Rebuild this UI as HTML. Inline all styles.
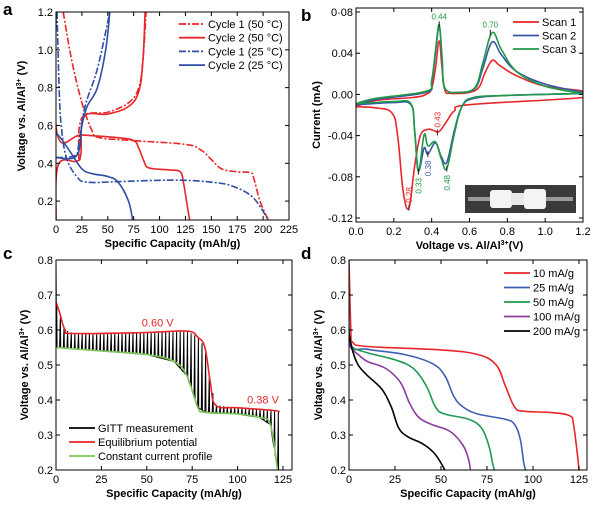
<!DOCTYPE html>
<html><head><meta charset="utf-8"><style>
body{margin:0;background:#fff}
svg{display:block;font-family:"Liberation Sans",sans-serif}
</style></head><body>
<svg id="fig" width="600" height="511" viewBox="0 0 600 511"></svg>
<script>
// ---------- data ----------
const aXTicks=[0,25,50,75,100,125,150,175,200,225];
const aYTicks=[0.2,0.4,0.6,0.8,1.0,1.2];
const aC1_50dis=[[7,1.2],[15,0.95],[25,0.72],[35,0.57],[42,0.535],[75,0.52],[125,0.5],[140,0.47],[150,0.42],[160,0.37],[175,0.355],[188,0.35],[191,0.32],[197,0.2],[205,0.1]];
const aC1_50chg=[[22,0.42],[25,0.64],[50,0.67],[70,0.72],[80,0.8],[84,0.95],[87,1.2]];
const aC2_50dis=[[0,1.2],[1,0.56],[25,0.55],[60,0.535],[75,0.52],[80,0.48],[85,0.41],[90,0.375],[110,0.365],[120,0.355],[123,0.3],[126,0.2],[129,0.1]];
const aC2_50chg=[[0,0.1],[2,0.39],[20,0.41],[24,0.45],[27,0.645],[50,0.66],[70,0.7],[80,0.78],[84,0.95],[86,1.2]];
const aC1_25dis=[[1,1.2],[3,0.8],[5,0.6],[10,0.43],[20,0.33],[30,0.3],[60,0.303],[100,0.31],[125,0.31],[150,0.3],[170,0.28],[190,0.22],[205,0.1]];
const aC1_25chg=[[0,0.43],[18,0.44],[22,0.5],[28,0.7],[40,0.9],[52,1.2]];
const aC2_25dis=[[0,0.56],[5,0.53],[15,0.45],[25,0.37],[35,0.345],[50,0.33],[60,0.3],[70,0.2],[74,0.1]];
const aC2_25chg=[[0,0.43],[20,0.44],[25,0.6],[30,0.7],[40,0.8],[48,1.0],[52,1.2]];

const bXTicks=[0,0.2,0.4,0.6,0.8,1.0,1.2];
const bYTicks=[-0.12,-0.08,-0.04,0,0.04,0.08];
const bYLabels=["-0.12","-0.08","-0.04","0.00","0.04","0·08"];
const bScan1=[[0,-0.012],[0.1,-0.006],[0.3,-0.003],[0.37,0],[0.40,0.006],[0.42,0.025],[0.44,0.052],[0.455,0.025],[0.47,0.004],[0.5,0.001],[0.6,0.002],[0.65,0.007],[0.68,0.02],[0.72,0.033],[0.76,0.028],[0.85,0.018],[1.0,0.008],[1.2,0.003],[1.2,-0.003],[0.6,-0.01],[0.52,-0.016],[0.48,-0.026],[0.44,-0.036],[0.41,-0.035],[0.38,-0.034],[0.34,-0.04],[0.31,-0.07],[0.28,-0.11],[0.25,-0.095],[0.22,-0.04],[0.19,-0.018],[0.1,-0.013],[0,-0.012]];
const bScan2=[[0,-0.01],[0.1,-0.005],[0.37,0.002],[0.40,0.012],[0.42,0.04],[0.44,0.066],[0.455,0.035],[0.47,0.006],[0.55,0.002],[0.63,0.006],[0.67,0.025],[0.72,0.051],[0.77,0.038],[0.85,0.022],[1.0,0.01],[1.2,0.002],[1.2,0.001],[0.8,-0.001],[0.62,-0.004],[0.56,-0.012],[0.52,-0.035],[0.48,-0.066],[0.45,-0.06],[0.42,-0.047],[0.38,-0.058],[0.36,-0.052],[0.33,-0.074],[0.31,-0.035],[0.29,-0.01],[0.2,-0.008],[0,-0.01]];
const bScan3=[[0,-0.009],[0.1,-0.004],[0.37,0.003],[0.40,0.014],[0.42,0.042],[0.44,0.068],[0.455,0.036],[0.47,0.006],[0.55,0.002],[0.63,0.007],[0.67,0.03],[0.72,0.06],[0.77,0.043],[0.85,0.022],[1.0,0.008],[1.2,0.001],[1.2,0.001],[0.8,-0.001],[0.62,-0.003],[0.56,-0.012],[0.52,-0.038],[0.48,-0.072],[0.45,-0.062],[0.42,-0.046],[0.38,-0.05],[0.36,-0.039],[0.33,-0.075],[0.31,-0.035],[0.29,-0.009],[0.2,-0.007],[0,-0.009]];

const cXTicks=[0,25,50,75,100,125];
const cYTicks=[0.2,0.3,0.4,0.5,0.6,0.7,0.8];
const cEq=[[0,0.68],[2,0.65],[5,0.6],[10,0.59],[50,0.593],[72,0.597],[78,0.58],[82,0.55],[85,0.45],[88,0.385],[100,0.378],[120,0.37],[123,0.365]];
const cCC=[[0,0.55],[25,0.54],[50,0.53],[65,0.51],[72,0.47],[78,0.38],[82,0.365],[100,0.36],[112,0.35],[118,0.33],[122,0.2]];

const dXTicks=[0,25,50,75,100,125];
const dYTicks=[0.2,0.3,0.4,0.5,0.6,0.7,0.8];
const d10=[[0,0.8],[1,0.6],[2,0.565],[10,0.553],[50,0.543],[70,0.53],[80,0.5],[85,0.44],[90,0.38],[95,0.368],[110,0.364],[120,0.355],[122,0.33],[124,0.25],[125,0.2]];
const d25=[[0,0.7],[1,0.56],[10,0.545],[30,0.53],[45,0.505],[52,0.47],[57,0.41],[62,0.38],[70,0.36],[85,0.345],[90,0.33],[93,0.29],[95,0.22],[96,0.2]];
const d50=[[0,0.6],[1,0.555],[10,0.535],[25,0.515],[35,0.49],[42,0.44],[47,0.38],[52,0.36],[65,0.345],[72,0.32],[76,0.27],[78,0.22],[79,0.2]];
const d100=[[0,0.58],[1,0.55],[5,0.53],[10,0.51],[20,0.49],[28,0.45],[33,0.39],[38,0.35],[45,0.33],[55,0.31],[62,0.27],[65,0.23],[66,0.2]];
const d200=[[0,0.59],[2,0.54],[5,0.5],[10,0.47],[18,0.43],[23,0.38],[27,0.32],[32,0.295],[40,0.275],[46,0.25],[50,0.22],[52,0.2]];

// ---------- drawing ----------
const NS="http://www.w3.org/2000/svg";
const svg=document.getElementById('fig');
function mk(tag,attrs,parent,text){const e=document.createElementNS(NS,tag);for(const k in attrs)e.setAttribute(k,attrs[k]);if(text!==undefined)e.textContent=text;(parent||svg).appendChild(e);return e;}
function scale(d0,d1,r0,r1){return v=>r0+(v-d0)/(d1-d0)*(r1-r0);}
function smooth(P){
  let d='M'+P[0][0].toFixed(1)+','+P[0][1].toFixed(1);
  const k=0.18;
  for(let i=0;i<P.length-1;i++){
    const p0=P[i-1]||P[i],p1=P[i],p2=P[i+1],p3=P[i+2]||P[i+1];
    const c1=[p1[0]+(p2[0]-p0[0])*k,p1[1]+(p2[1]-p0[1])*k];
    const c2=[p2[0]-(p3[0]-p1[0])*k,p2[1]-(p3[1]-p1[1])*k];
    d+='C'+c1.map(v=>v.toFixed(1))+' '+c2.map(v=>v.toFixed(1))+' '+p2[0].toFixed(1)+','+p2[1].toFixed(1);
  }
  return d;
}

function panel(o){
  const g=mk('g',{});
  
  
  const X=scale(o.xd[0],o.xd[1],o.x0,o.x1), Y=scale(o.yd[0],o.yd[1],o.y0,o.y1);
  const clipId='clip'+o.name;
  const cp=mk('clipPath',{id:clipId},g);mk('rect',{x:o.fx0,y:o.fy0,width:o.fx1-o.fx0,height:o.fy1-o.fy0},cp);
  const plot=mk('g',{'clip-path':'url(#'+clipId+')'},g);
  o.X=X;o.Y=Y;o.plot=plot;o.g=g;
  if(o.pre)o.pre(o);
  o.series.forEach(s=>{
    const p=mk('path',{d:smooth(s.pts.map(q=>[X(q[0]),Y(q[1])])),fill:'none',stroke:s.c,'stroke-width':s.w||1.6,'stroke-dasharray':s.dash||'','stroke-linejoin':'round'},plot);
    
    
  });
  const fr=mk('rect',{x:o.fx0,y:o.fy0,width:o.fx1-o.fx0,height:o.fy1-o.fy0,fill:'none',stroke:'#000','stroke-width':1},g);
  
  
  o.xt.forEach((v,i)=>{const x=X(v);
    mk('line',{x1:x,x2:x,y1:o.fy1,y2:o.fy1-4,stroke:'#000'},g);
    mk('line',{x1:x,x2:x,y1:o.fy0,y2:o.fy0+4,stroke:'#000'},g);
    const t=mk('text',{x:x,y:o.fy1+13,'text-anchor':'middle','font-size':11},g,o.xl?o.xl[i]:String(v));
    
    
  });
  o.yt.forEach((v,i)=>{const y=Y(v);
    mk('line',{x1:o.fx0,x2:o.fx0+4,y1:y,y2:y,stroke:'#000'},g);
    mk('line',{x1:o.fx1,x2:o.fx1-4,y1:y,y2:y,stroke:'#000'},g);
    const t=mk('text',{x:o.fx0-3,y:y+4,'text-anchor':'end','font-size':11},g,o.yl?o.yl[i]:v.toFixed(1));
    
    
  });
  const xlab=mk('text',{x:(o.fx0+o.fx1)/2,y:o.fy1+27,'text-anchor':'middle','font-size':11,'font-weight':'bold'},g);
  xlab.innerHTML=o.xlab;
  
  
  const yc=(o.fy0+o.fy1)/2;
  const ylab=mk('text',{x:0,y:0,transform:`translate(${o.ylx},${yc}) rotate(-90)`,'text-anchor':'middle','font-size':11,'font-weight':'bold'},g);
  ylab.innerHTML=o.ylab;
  
  
  const pl=mk('text',{x:o.lx,y:o.ly,'font-size':17,'font-weight':'bold'},g,o.letter);
  
  
  if(o.legend){o.legend.forEach((l,i)=>{
    const y=o.legy+i*o.legdy;
    mk('line',{x1:o.legx,x2:o.legx+26,y1:y,y2:y,stroke:l.c,'stroke-width':1.8,'stroke-dasharray':l.dash||''},g);
    const t=mk('text',{x:o.legx+29,y:y+4,'font-size':11},g,l.t);
    
    
  });}
  if(o.post)o.post(o);
  return o;
}
const VL='Voltage vs. Al/Al<tspan font-size="7" dy="-4">3+</tspan><tspan dy="4"> (V)</tspan>';
const SC='Specific Capacity (mAh/g)';
const R='#e8262b',B='#2f4fa6',DD='7 2 2 2';

panel({name:'panel-a',letter:'a',lx:3,ly:15,xd:[0,225],yd:[0.1,1.2],x0:56,x1:289,y0:220,y1:12,fx0:56,fx1:289,fy0:12,fy1:220,
  xt:aXTicks,yt:aYTicks,xlab:SC,ylab:VL,ylx:25,
  series:[{pts:aC1_50dis,c:R,dash:DD,n:'cycle1-50c-discharge'},{pts:aC1_50chg,c:R,dash:DD,n:'cycle1-50c-charge'},
    {pts:aC2_50dis,c:R,n:'cycle2-50c-discharge'},{pts:aC2_50chg,c:R,n:'cycle2-50c-charge'},
    {pts:aC1_25dis,c:B,dash:DD,n:'cycle1-25c-discharge'},{pts:aC1_25chg,c:B,dash:DD,n:'cycle1-25c-charge'},
    {pts:aC2_25dis,c:B,n:'cycle2-25c-discharge'},{pts:aC2_25chg,c:B,n:'cycle2-25c-charge'}],
  legend:[{t:'Cycle 1 (50 °C)',c:R,dash:DD},{t:'Cycle 2 (50 °C)',c:R},{t:'Cycle 1 (25 °C)',c:B,dash:DD},{t:'Cycle 2 (25 °C)',c:B}],
  legx:179,legy:24,legdy:13.7});

const G='#1f9a48',BB='#3a55a8';
panel({name:'panel-b',letter:'b',lx:301,ly:21,xd:[0,1.2],yd:[-0.12,0.08],x0:356,x1:583,y0:218,y1:12,fx0:356,fx1:583,fy0:8,fy1:222,
  xt:bXTicks,yt:bYTicks,yl:bYLabels,xl:bXTicks.map(v=>v.toFixed(1)),xlab:'Voltage vs. Al/Al<tspan font-size="7" dy="-4">3+</tspan><tspan dy="4">(V)</tspan>',ylab:'Current (mA)',ylx:320,
  series:[{pts:bScan1,c:R,n:'scan-1'},{pts:bScan2,c:BB,n:'scan-2'},{pts:bScan3,c:G,n:'scan-3'}],
  legend:[{t:'Scan 1',c:R},{t:'Scan 2',c:BB},{t:'Scan 3',c:G}],legx:513,legy:22,legdy:13.5,
  post:o=>{
    const ann=[[0.44,0.068,'0.44',G,'up'],[0.71,0.06,'0.70',G,'up'],[0.43,-0.037,'0.43',R,'rup'],[0.28,-0.11,'0.28',R,'rup'],[0.33,-0.075,'0.33',G,'rdn'],[0.38,-0.058,'0.38',BB,'rdn'],[0.48,-0.072,'0.48',G,'rdn']];
    ann.forEach(a=>{const x=o.X(a[0]),y=o.Y(a[1]);
      mk('line',{x1:x,x2:x,y1:y-3,y2:y+3,stroke:'#222'},o.g);
      let t;
      if(a[4]==='up')t=mk('text',{x:x,y:y-5,'text-anchor':'middle','font-size':8,fill:a[3]},o.g,a[2]);
      else if(a[4]==='rup')t=mk('text',{x:0,y:0,transform:`translate(${x+3},${y-5}) rotate(-90)`,'font-size':8,fill:a[3]},o.g,a[2]);
      else t=mk('text',{x:0,y:0,transform:`translate(${x+3},${y+22}) rotate(-90)`,'font-size':8,fill:a[3]},o.g,a[2]);
      
      
    });
    const ph=mk('g',{},o.g);
    
    
    mk('rect',{x:465,y:185,width:111,height:28,fill:'#3a3a3a'},ph);
    mk('rect',{x:468,y:197,width:105,height:4,fill:'#999'},ph);
    mk('rect',{x:490,y:190,width:22,height:18,rx:3,fill:'#f4f4f4'},ph);
    mk('rect',{x:511,y:193,width:14,height:12,fill:'#e8e8e8'},ph);
    mk('rect',{x:524,y:189,width:22,height:20,rx:3,fill:'#f4f4f4'},ph);
  }});

panel({name:'panel-c',letter:'c',lx:3,ly:259,xd:[0,125],yd:[0.2,0.8],x0:56,x1:283,y0:470,y1:260,fx0:56,fx1:292,fy0:260,fy1:470,
  xt:cXTicks,yt:cYTicks,xlab:SC,ylab:VL,ylx:28,
  pre:o=>{
    function interp(arr,x){for(let i=1;i<arr.length;i++){if(x<=arr[i][0]){const a=arr[i-1],b=arr[i];return a[1]+(b[1]-a[1])*(x-a[0])/(b[0]-a[0]);}}return arr[arr.length-1][1];}
    let d='M'+o.X(0)+','+o.Y(0.8)+'L'+o.X(0.3)+','+o.Y(0.55);
    for(let q=0;q<=122;q+=2){
      d+='L'+o.X(q).toFixed(1)+','+o.Y(interp(cCC,q)).toFixed(1);
      d+='L'+o.X(q+0.4).toFixed(1)+','+o.Y(Math.min(interp(cEq,q+0.4),0.8)).toFixed(1);
      d+='L'+o.X(q+0.6).toFixed(1)+','+o.Y(interp(cCC,q+0.6)).toFixed(1);
    }
    const p=mk('path',{d:d,fill:'none',stroke:'#000','stroke-width':1},o.plot);
    
    
  },
  series:[{pts:cCC,c:'#7cc95a',n:'constant-current-profile'},{pts:cEq,c:R,n:'equilibrium-potential'}],
  legend:[{t:'GITT measurement',c:'#000'},{t:'Equilibrium potential',c:R},{t:'Constant current profile',c:'#7cc95a'}],legx:69,legy:428,legdy:14,
  post:o=>{
    mk('text',{x:o.X(56),y:o.Y(0.61),'font-size':11,fill:R,'text-anchor':'middle'},o.g,'0.60 V');
    mk('text',{x:o.X(114),y:o.Y(0.39),'font-size':11,fill:R,'text-anchor':'middle'},o.g,'0.38 V');
  }});

panel({name:'panel-d',letter:'d',lx:301,ly:259,xd:[0,125],yd:[0.2,0.8],x0:349,x1:579,y0:470,y1:260,fx0:349,fx1:587,fy0:260,fy1:470,
  xt:dXTicks,yt:dYTicks,xlab:SC,ylab:VL,ylx:322,
  series:[{pts:d10,c:R,n:'rate-10'},{pts:d25,c:'#3f5fb0',n:'rate-25'},{pts:d50,c:'#1e9a55',n:'rate-50'},{pts:d100,c:'#8a3d9e',n:'rate-100'},{pts:d200,c:'#000',n:'rate-200'}],
  legend:[{t:'10 mA/g',c:R},{t:'25 mA/g',c:'#3f5fb0'},{t:'50 mA/g',c:'#1e9a55'},{t:'100 mA/g',c:'#8a3d9e'},{t:'200 mA/g',c:'#000'}],legx:504,legy:273,legdy:14.5});
</script>
</body></html>
